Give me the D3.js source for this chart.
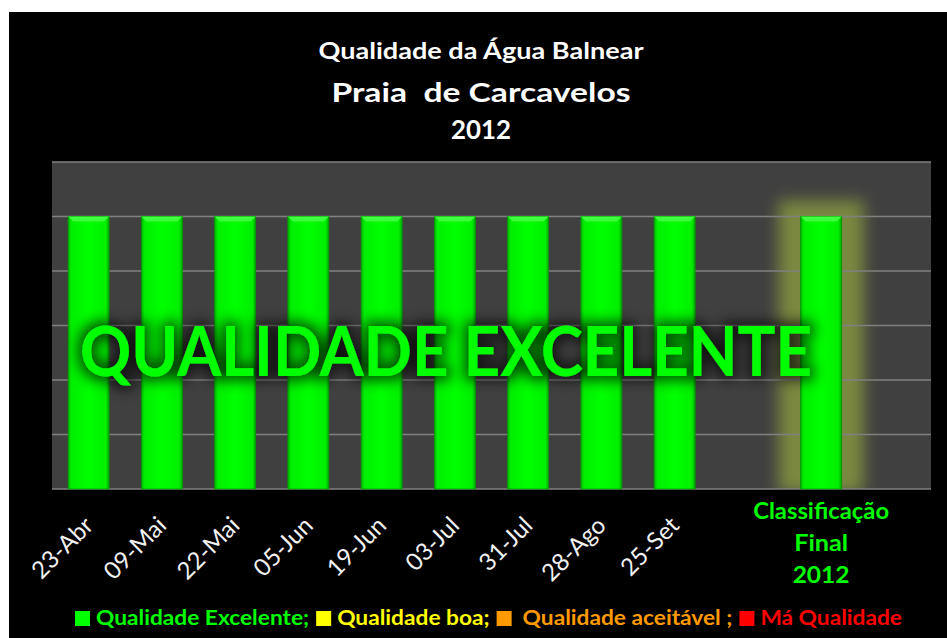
<!DOCTYPE html>
<html lang="pt">
<head>
  <meta charset="UTF-8">
  <title>Qualidade da Água Balnear - Carcavelos 2012</title>
  <script src="https://cdn.jsdelivr.net/npm/d3@7"></script>
  <style>
    body { margin: 0; background: #fff; }
    svg { display: block; font-family: Lato, "Open Sans", sans-serif; }
  </style>
</head>
<body>
  <div id="chart"></div>

  <script>
    const width = 947,
      height = 638;

    // data
    const categories = ["23-Abr", "09-Mai", "22-Mai", "05-Jun", "19-Jun", "03-Jul", "31-Jul", "28-Ago", "25-Set", "gap1", "final", "gap2"];
    const values = [5, 5, 5, 5, 5, 5, 5, 5, 5, null, 5, null];
    const finalLabel = ["Classificação", "Final", "2012"];
    const titleLines = ["Qualidade da Água Balnear", "Praia  de Carcavelos", "2012"];
    const yTicks = [0, 1, 2, 3, 4, 5, 6];
    const legendNames = ["Qualidade Excelente;", "Qualidade boa;", "Qualidade aceitável ;", "Má Qualidade"];
    const legendColors = ["#00ff00", "#ffff00", "#ff9900", "#ff0000"];

    const plot = {left: 52, right: 931, top: 162, bottom: 489};

    const svg = d3.select('#chart')
      .append('svg')
        .attr('width', width)
        .attr('height', height);

    const defs = svg.append('defs');

    const barGrad = defs.append('linearGradient')
      .attr('id', 'barGrad')
      .attr('x1', 0).attr('x2', 1).attr('y1', 0).attr('y2', 0);
    barGrad.append('stop').attr('offset', '0%').attr('stop-color', '#00b400');
    barGrad.append('stop').attr('offset', '8%').attr('stop-color', '#00f000');
    barGrad.append('stop').attr('offset', '50%').attr('stop-color', '#00ff00');
    barGrad.append('stop').attr('offset', '92%').attr('stop-color', '#00f000');
    barGrad.append('stop').attr('offset', '100%').attr('stop-color', '#00a800');

    const glow = defs.append('filter').attr('id', 'glow')
      .attr('x', '-50%').attr('y', '-20%').attr('width', '200%').attr('height', '140%');
    glow.append('feGaussianBlur').attr('stdDeviation', 8);

    const textShadow = defs.append('filter').attr('id', 'textShadow')
      .attr('x', '-10%').attr('y', '-40%').attr('width', '120%').attr('height', '180%');
    textShadow.append('feMorphology').attr('in', 'SourceAlpha').attr('operator', 'dilate').attr('radius', 4).attr('result', 'fat');
    textShadow.append('feGaussianBlur').attr('in', 'fat').attr('stdDeviation', 7).attr('result', 'blur');
    textShadow.append('feFlood').attr('flood-color', '#000').attr('flood-opacity', 0.7);
    textShadow.append('feComposite').attr('in2', 'blur').attr('operator', 'in').attr('result', 'shadow');
    const merge = textShadow.append('feMerge');
    merge.append('feMergeNode').attr('in', 'shadow');
    merge.append('feMergeNode').attr('in', 'SourceGraphic');

    defs.append('clipPath').attr('id', 'plotClip')
      .append('rect')
        .attr('x', plot.left).attr('y', plot.top)
        .attr('width', plot.right - plot.left).attr('height', plot.bottom - plot.top);

    // black panel
    svg.append('rect')
      .attr('x', 9).attr('y', 12)
      .attr('width', width - 9).attr('height', height - 12)
      .attr('fill', '#000');

    const x = d3.scaleBand()
      .domain(categories)
      .range([plot.left, plot.right])
      .paddingInner(0.44)
      .paddingOuter(0.22);

    const y = d3.scaleLinear()
      .domain([0, 6])
      .range([plot.bottom, plot.top]);

    // plot area
    svg.append('rect')
      .attr('x', plot.left).attr('y', plot.top)
      .attr('width', plot.right - plot.left).attr('height', plot.bottom - plot.top)
      .attr('fill', '#404040');

    // glow behind the final classification bar
    const finalData = categories.map((c, i) => ({c, v: values[i]})).filter(d => d.c === 'final');
    svg.append('g')
      .attr('clip-path', 'url(#plotClip)')
      .selectAll('rect')
      .data(finalData)
      .join('rect')
        .attr('x', d => x(d.c) - 22)
        .attr('y', d => y(d.v) - 16)
        .attr('width', x.bandwidth() + 44)
        .attr('height', d => plot.bottom - y(d.v) + 20)
        .attr('fill', '#8a9c40')
        .attr('opacity', 0.8)
        .attr('filter', 'url(#glow)');

    // gridlines
    svg.append('g')
      .selectAll('line')
      .data(yTicks)
      .join('line')
        .attr('x1', plot.left).attr('x2', plot.right)
        .attr('y1', d => y(d)).attr('y2', d => y(d))
        .attr('stroke', '#808080')
        .attr('stroke-width', 1.5);

    // bars
    const barData = categories.map((c, i) => ({c, v: values[i]})).filter(d => d.v != null);
    const bars = svg.append('g');
    bars.selectAll('rect.bar')
      .data(barData)
      .join('rect')
        .attr('class', 'bar')
        .attr('x', d => x(d.c))
        .attr('y', d => y(d.v))
        .attr('width', x.bandwidth())
        .attr('height', d => y(0) - y(d.v))
        .attr('fill', 'url(#barGrad)')
        .attr('stroke', '#009a00')
        .attr('stroke-width', 0.8);
    // bevel on top of each bar
    bars.selectAll('path.bevel')
      .data(barData)
      .join('path')
        .attr('class', 'bevel')
        .attr('d', d => {
          const x0 = x(d.c), x1 = x0 + x.bandwidth(), y0 = y(d.v);
          return `M${x0},${y0}L${x1},${y0}L${x1 - 5},${y0 + 5}L${x0 + 5},${y0 + 5}Z`;
        })
        .attr('fill', '#3dff3d');

    // big label
    svg.append('text')
      .attr('x', 446)
      .attr('y', 376)
      .attr('text-anchor', 'middle')
      .attr('font-size', 68)
      .attr('font-weight', 700)
      .attr('fill', '#00ff00')
      .attr('textLength', 732)
      .attr('lengthAdjust', 'spacingAndGlyphs')
      .attr('filter', 'url(#textShadow)')
      .text('QUALIDADE EXCELENTE');

    // x axis labels (dates only)
    svg.append('g')
      .selectAll('text')
      .data(categories.slice(0, 9))
      .join('text')
        .attr('transform', d => `translate(${x(d) + x.bandwidth() / 2 + 6},${plot.bottom + 38}) rotate(-45)`)
        .attr('text-anchor', 'end')
        .attr('font-size', 24)
        .attr('fill', '#f2f2f2')
        .text(d => d);

    // final classification label
    const finalWidths = [136, 54, 57];
    svg.append('g')
      .selectAll('text')
      .data(finalLabel)
      .join('text')
        .attr('x', x('final') + x.bandwidth() / 2)
        .attr('y', (d, i) => 519 + i * 32)
        .attr('text-anchor', 'middle')
        .attr('font-size', 22)
        .attr('font-weight', 700)
        .attr('fill', '#00ff00')
        .attr('textLength', (d, i) => finalWidths[i])
        .attr('lengthAdjust', 'spacingAndGlyphs')
        .text(d => d);

    // title
    const titleSizes = [23, 27, 26];
    const titleY = [59, 102, 139];
    const titleWidths = [325, 299, 60];
    svg.append('g')
      .selectAll('text')
      .data(titleLines)
      .join('text')
        .attr('x', 481)
        .attr('y', (d, i) => titleY[i])
        .attr('text-anchor', 'middle')
        .attr('font-size', (d, i) => titleSizes[i])
        .attr('font-weight', 700)
        .attr('fill', '#fff')
        .attr('textLength', (d, i) => titleWidths[i])
        .attr('lengthAdjust', 'spacingAndGlyphs')
        .style('white-space', 'pre')
        .text(d => d);

    // legend: lay out at natural width, then stretch texts to fill the span
    const legendSpan = [75, 902];
    const legend = svg.append('g').attr('transform', `translate(${legendSpan[0]},625)`);
    const items = legendNames.map((name, i) => {
      const t = legend.append('text')
        .attr('font-size', 21)
        .attr('font-weight', 700)
        .attr('fill', legendColors[i])
        .text(name);
      return {t, w: t.node().getComputedTextLength(), gap: i === 2 ? 11 : 6};
    });
    const fixed = items.reduce((s, d) => s + 15 + d.gap, 0) + 7 * (items.length - 1);
    const natural = items.reduce((s, d) => s + d.w, 0);
    const sx = (legendSpan[1] - legendSpan[0] - fixed) / natural;
    let lx = 0;
    items.forEach((d, i) => {
      legend.append('rect')
        .attr('x', lx).attr('y', -14)
        .attr('width', 15).attr('height', 15)
        .attr('fill', legendColors[i]);
      d.t.attr('x', lx + 15 + d.gap)
        .attr('textLength', d.w * sx)
        .attr('lengthAdjust', 'spacingAndGlyphs');
      lx += 15 + d.gap + d.w * sx + 7;
    });
  </script>
</body>
</html>
